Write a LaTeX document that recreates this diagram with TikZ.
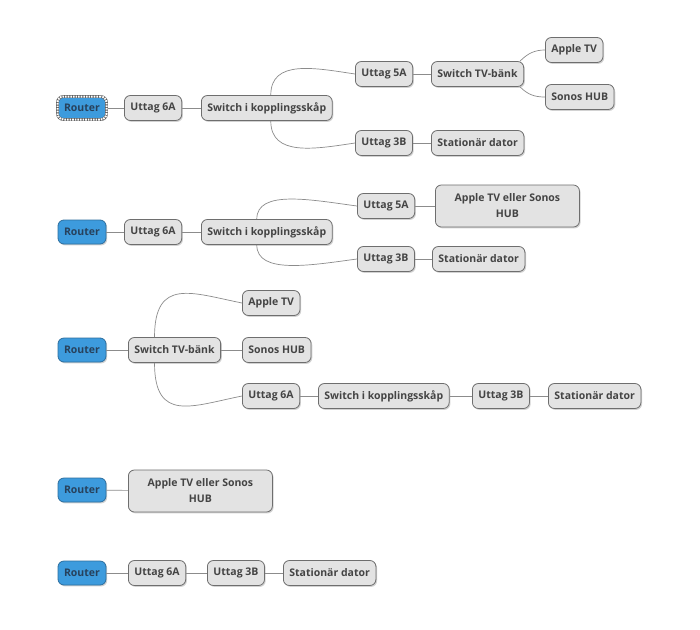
\documentclass[tikz,border=0pt]{standalone}
\usepackage{fontspec}
\setmainfont{Open Sans}
\usepackage{xcolor}
\usepackage{tikz}
\usetikzlibrary{shadows}

\definecolor{boxfill}{HTML}{E3E3E3}
\definecolor{boxline}{HTML}{6E6E6E}
\definecolor{boxtext}{HTML}{444444}
\definecolor{routerfill}{HTML}{3D9BDD}
\definecolor{routerline}{HTML}{2C6E9E}
\definecolor{routertext}{HTML}{27415C}
\definecolor{linkcol}{HTML}{8C8C8C}

\tikzset{
  box/.style={draw=boxline, fill=boxfill, rounded corners=6pt, line width=0.8pt,
    text=boxtext, font=\fontsize{10.5}{16}\selectfont\bfseries,
    minimum height=25pt, inner xsep=6pt, inner ysep=2pt,
    drop shadow={shadow xshift=1.2pt, shadow yshift=-1.4pt, opacity=0.35}},
  router/.style={box, fill=routerfill, draw=routerline, text=routertext,
    minimum width=48pt, minimum height=24pt},
  selected/.style={draw=black!65, line width=2.8pt,
    postaction={draw=white, line width=2pt, dash pattern=on 1.6pt off 1pt}},
  wide/.style={box, align=center, minimum width=144pt, minimum height=42pt},
  link/.style={draw=linkcol, line width=0.7pt},
}

\begin{document}
\begin{tikzpicture}[x=1pt,y=1pt]
  \useasboundingbox[fill=white] (0,0) rectangle (700,-629);

  % first layout
  \node[router, selected, minimum width=49pt, minimum height=23pt] (r1) at (82,-108) {Router};
  \node[box, anchor=west] (ua1) at (124,-108) {Uttag 6A};
  \node[box, anchor=west] (sk1) at (201,-108) {Switch i kopplingsskåp};
  \node[box, anchor=west] (ub1) at (355,-74) {Uttag 5A};
  \node[box, anchor=west] (tv1) at (431,-74) {Switch TV-bänk};
  \node[box, anchor=west] (at1) at (545,-50) {Apple TV};
  \node[box, anchor=west] (so1) at (545,-97) {Sonos HUB};
  \node[box, anchor=west] (uc1) at (355,-143) {Uttag 3B};
  \node[box, anchor=west] (sd1) at (431,-143) {Stationär dator};
  \draw[link] ([xshift=4pt]sk1.north) .. controls +(0,36) and +(-40,6) .. (ub1.west);
  \draw[link] ([xshift=4pt]sk1.south) .. controls +(0,-36) and +(-40,-6) .. (uc1.west);
  \draw[link] ([xshift=-4pt]tv1.north east) .. controls +(8,8) and +(-10,0) .. (at1.west);
  \draw[link] ([xshift=-4pt]tv1.south east) .. controls +(8,-8) and +(-10,0) .. (so1.west);

  % second layout
  \node[router] (r2) at (82,-232) {Router};
  \node[box, anchor=west] (ua2) at (124,-232) {Uttag 6A};
  \node[box, anchor=west] (sk2) at (201,-232) {Switch i kopplingsskåp};
  \node[box, anchor=west] (ub2) at (357,-206) {Uttag 5A};
  \node[wide, anchor=west] (ah2) at (435,-206) {Apple TV eller Sonos\\HUB};
  \node[box, anchor=west] (uc2) at (357,-259) {Uttag 3B};
  \node[box, anchor=west] (sd2) at (432,-259) {Stationär dator};
  \draw[link] ([xshift=-10pt]sk2.north) .. controls +(0,30) and +(-45,6) .. (ub2.west);
  \draw[link] ([xshift=-10pt]sk2.south) .. controls +(0,-30) and +(-45,-6) .. (uc2.west);

  % third layout
  \node[router] (r3) at (82,-350) {Router};
  \node[box, anchor=west] (tv3) at (128,-350) {Switch TV-bänk};
  \node[box, anchor=west] (at3) at (242,-303) {Apple TV};
  \node[box, anchor=west] (so3) at (242,-350) {Sonos HUB};
  \node[box, anchor=west] (ua3) at (242,-396) {Uttag 6A};
  \node[box, anchor=west] (sk3) at (318,-396) {Switch i kopplingsskåp};
  \node[box, anchor=west] (uc3) at (472,-396) {Uttag 3B};
  \node[box, anchor=west] (sd3) at (548,-396) {Stationär dator};
  \draw[link] ([xshift=-20pt]tv3.north) .. controls +(0,60) and +(-50,10) .. (at3.west);
  \draw[link] ([xshift=-20pt]tv3.south) .. controls +(0,-60) and +(-50,-10) .. (ua3.west);

  % fourth layout
  \node[router] (r4) at (82,-490) {Router};
  \node[wide, anchor=west] (ah4) at (128,-491) {Apple TV eller Sonos\\HUB};

  % fifth layout
  \node[router] (r5) at (82,-573) {Router};
  \node[box, anchor=west] (ua5) at (128,-573) {Uttag 6A};
  \node[box, anchor=west] (uc5) at (207,-573) {Uttag 3B};
  \node[box, anchor=west] (sd5) at (283,-573) {Stationär dator};

  \foreach \a/\b in {r1/ua1, ua1/sk1, ub1/tv1, uc1/sd1,
                     r2/ua2, ua2/sk2, ub2/ah2, uc2/sd2,
                     r3/tv3, tv3/so3, ua3/sk3, sk3/uc3, uc3/sd3,
                     r4/ah4, r5/ua5, ua5/uc5, uc5/sd5}
    \draw[link] (\a) -- (\b);
\end{tikzpicture}
\end{document}
